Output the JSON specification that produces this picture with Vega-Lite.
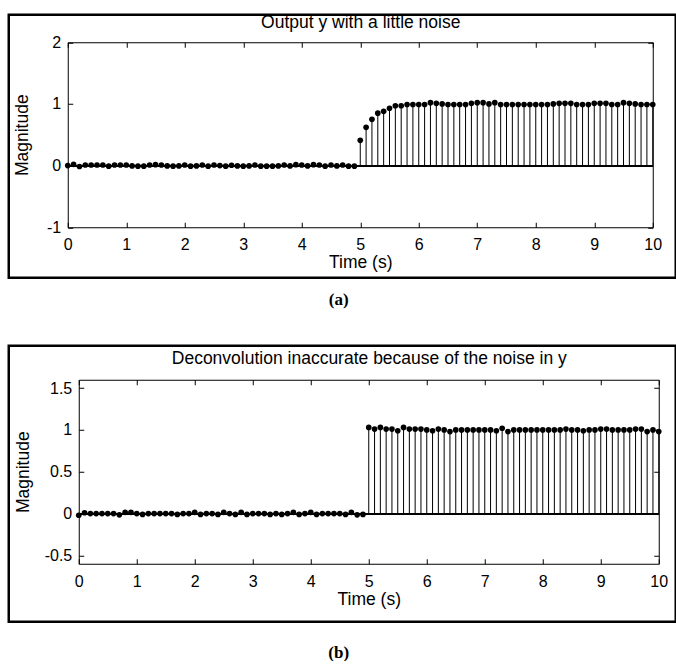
{
  "$schema": "https://vega.github.io/schema/vega-lite/v6.json",
  "autosize": {"type": "pad"},
  "padding": {"left": 6.75, "top": 11.75, "right": 0, "bottom": 0},
  "background": "white",
  "spacing": 36,
  "config": {
    "view": {"stroke": "black", "strokeWidth": 2.5},
    "font": "Liberation Sans",
    "axis": {
      "grid": false,
      "domainColor": "black",
      "domainWidth": 1,
      "tickColor": "black",
      "tickWidth": 1,
      "tickSize": -5,
      "labelColor": "black",
      "labelFont": "Liberation Sans",
      "labelFontSize": 16,
      "labelFlush": false,
      "labelOverlap": false,
      "titleFont": "Liberation Sans",
      "titleFontSize": 17.5,
      "titleFontWeight": "normal",
      "titleColor": "black",
      "labelExpr": "'' + datum.value"
    }
  },
  "datasets": {
    "a": [
      {"t": 0, "v": 0.0}, {"t": 0.1, "v": 0.02}, {"t": 0.2, "v": -0.015}, {"t": 0.3, "v": 0.01}, {"t": 0.4, "v": 0.01},
      {"t": 0.5, "v": 0.01}, {"t": 0.6, "v": 0.01}, {"t": 0.7, "v": -0.01}, {"t": 0.8, "v": 0.01}, {"t": 0.9, "v": 0.01},
      {"t": 1.0, "v": 0.01}, {"t": 1.1, "v": -0.005}, {"t": 1.2, "v": -0.01}, {"t": 1.3, "v": -0.01}, {"t": 1.4, "v": 0.01},
      {"t": 1.5, "v": 0.015}, {"t": 1.6, "v": 0.01}, {"t": 1.7, "v": -0.005}, {"t": 1.8, "v": -0.01}, {"t": 1.9, "v": -0.005},
      {"t": 2.0, "v": 0.01}, {"t": 2.1, "v": -0.01}, {"t": 2.2, "v": -0.005}, {"t": 2.3, "v": 0.01}, {"t": 2.4, "v": -0.01},
      {"t": 2.5, "v": 0.01}, {"t": 2.6, "v": 0.0}, {"t": 2.7, "v": -0.01}, {"t": 2.8, "v": 0.005}, {"t": 2.9, "v": -0.005},
      {"t": 3.0, "v": -0.01}, {"t": 3.1, "v": -0.005}, {"t": 3.2, "v": 0.01}, {"t": 3.3, "v": -0.01}, {"t": 3.4, "v": -0.01},
      {"t": 3.5, "v": -0.01}, {"t": 3.6, "v": -0.005}, {"t": 3.7, "v": 0.01}, {"t": 3.8, "v": -0.005}, {"t": 3.9, "v": 0.015},
      {"t": 4.0, "v": 0.01}, {"t": 4.1, "v": -0.005}, {"t": 4.2, "v": 0.015}, {"t": 4.3, "v": 0.01}, {"t": 4.4, "v": -0.01},
      {"t": 4.5, "v": 0.01}, {"t": 4.6, "v": -0.005}, {"t": 4.7, "v": 0.01}, {"t": 4.8, "v": -0.01}, {"t": 4.9, "v": -0.01},
      {"t": 5.0, "v": 0.41}, {"t": 5.1, "v": 0.62}, {"t": 5.2, "v": 0.75}, {"t": 5.3, "v": 0.85}, {"t": 5.4, "v": 0.88},
      {"t": 5.5, "v": 0.93}, {"t": 5.6, "v": 0.97}, {"t": 5.7, "v": 0.97}, {"t": 5.8, "v": 0.99}, {"t": 5.9, "v": 0.99},
      {"t": 6.0, "v": 0.99}, {"t": 6.1, "v": 0.99}, {"t": 6.2, "v": 1.02}, {"t": 6.3, "v": 1.01}, {"t": 6.4, "v": 1.0},
      {"t": 6.5, "v": 0.99}, {"t": 6.6, "v": 0.99}, {"t": 6.7, "v": 0.99}, {"t": 6.8, "v": 0.99}, {"t": 6.9, "v": 1.01},
      {"t": 7.0, "v": 1.02}, {"t": 7.1, "v": 1.02}, {"t": 7.2, "v": 1.0}, {"t": 7.3, "v": 1.02}, {"t": 7.4, "v": 0.99},
      {"t": 7.5, "v": 0.99}, {"t": 7.6, "v": 0.99}, {"t": 7.7, "v": 0.99}, {"t": 7.8, "v": 0.99}, {"t": 7.9, "v": 0.99},
      {"t": 8.0, "v": 0.99}, {"t": 8.1, "v": 0.99}, {"t": 8.2, "v": 0.99}, {"t": 8.3, "v": 1.0}, {"t": 8.4, "v": 1.01},
      {"t": 8.5, "v": 1.01}, {"t": 8.6, "v": 1.01}, {"t": 8.7, "v": 0.99}, {"t": 8.8, "v": 0.99}, {"t": 8.9, "v": 0.99},
      {"t": 9.0, "v": 1.01}, {"t": 9.1, "v": 1.01}, {"t": 9.2, "v": 1.01}, {"t": 9.3, "v": 0.99}, {"t": 9.4, "v": 0.99},
      {"t": 9.5, "v": 1.02}, {"t": 9.6, "v": 1.01}, {"t": 9.7, "v": 1.0}, {"t": 9.8, "v": 0.99}, {"t": 9.9, "v": 0.99},
      {"t": 10.0, "v": 0.99}
    ],
    "b": [
      {"t": 0, "v": -0.02}, {"t": 0.1, "v": 0.01}, {"t": 0.2, "v": 0.0}, {"t": 0.3, "v": 0.0}, {"t": 0.4, "v": 0.0},
      {"t": 0.5, "v": 0.0}, {"t": 0.6, "v": 0.0}, {"t": 0.7, "v": -0.015}, {"t": 0.8, "v": 0.015}, {"t": 0.9, "v": 0.015},
      {"t": 1.0, "v": 0.0}, {"t": 1.1, "v": -0.01}, {"t": 1.2, "v": 0.0}, {"t": 1.3, "v": 0.0}, {"t": 1.4, "v": 0.0},
      {"t": 1.5, "v": 0.0}, {"t": 1.6, "v": 0.0}, {"t": 1.7, "v": -0.01}, {"t": 1.8, "v": 0.0}, {"t": 1.9, "v": 0.0},
      {"t": 2.0, "v": 0.015}, {"t": 2.1, "v": -0.01}, {"t": 2.2, "v": 0.0}, {"t": 2.3, "v": 0.0}, {"t": 2.4, "v": -0.01},
      {"t": 2.5, "v": 0.015}, {"t": 2.6, "v": 0.0}, {"t": 2.7, "v": -0.01}, {"t": 2.8, "v": 0.015}, {"t": 2.9, "v": -0.01},
      {"t": 3.0, "v": 0.0}, {"t": 3.1, "v": 0.0}, {"t": 3.2, "v": 0.0}, {"t": 3.3, "v": -0.01}, {"t": 3.4, "v": 0.0},
      {"t": 3.5, "v": -0.01}, {"t": 3.6, "v": 0.0}, {"t": 3.7, "v": 0.015}, {"t": 3.8, "v": -0.01}, {"t": 3.9, "v": 0.0},
      {"t": 4.0, "v": 0.015}, {"t": 4.1, "v": -0.01}, {"t": 4.2, "v": 0.0}, {"t": 4.3, "v": 0.0}, {"t": 4.4, "v": 0.0},
      {"t": 4.5, "v": 0.0}, {"t": 4.6, "v": -0.01}, {"t": 4.7, "v": 0.015}, {"t": 4.8, "v": -0.015}, {"t": 4.9, "v": -0.01},
      {"t": 5.0, "v": 1.03}, {"t": 5.1, "v": 1.01}, {"t": 5.2, "v": 1.03}, {"t": 5.3, "v": 1.01}, {"t": 5.4, "v": 1.01},
      {"t": 5.5, "v": 0.99}, {"t": 5.6, "v": 1.03}, {"t": 5.7, "v": 1.01}, {"t": 5.8, "v": 1.01}, {"t": 5.9, "v": 1.01},
      {"t": 6.0, "v": 1.0}, {"t": 6.1, "v": 0.99}, {"t": 6.2, "v": 1.01}, {"t": 6.3, "v": 1.0}, {"t": 6.4, "v": 0.98},
      {"t": 6.5, "v": 1.0}, {"t": 6.6, "v": 1.0}, {"t": 6.7, "v": 1.0}, {"t": 6.8, "v": 1.0}, {"t": 6.9, "v": 1.0},
      {"t": 7.0, "v": 1.0}, {"t": 7.1, "v": 1.0}, {"t": 7.2, "v": 0.99}, {"t": 7.3, "v": 1.02}, {"t": 7.4, "v": 0.98},
      {"t": 7.5, "v": 1.0}, {"t": 7.6, "v": 1.0}, {"t": 7.7, "v": 1.0}, {"t": 7.8, "v": 1.0}, {"t": 7.9, "v": 1.0},
      {"t": 8.0, "v": 1.0}, {"t": 8.1, "v": 1.0}, {"t": 8.2, "v": 1.0}, {"t": 8.3, "v": 1.0}, {"t": 8.4, "v": 1.01},
      {"t": 8.5, "v": 1.0}, {"t": 8.6, "v": 1.0}, {"t": 8.7, "v": 0.99}, {"t": 8.8, "v": 1.0}, {"t": 8.9, "v": 1.0},
      {"t": 9.0, "v": 1.01}, {"t": 9.1, "v": 1.01}, {"t": 9.2, "v": 1.0}, {"t": 9.3, "v": 1.0}, {"t": 9.4, "v": 1.0},
      {"t": 9.5, "v": 1.0}, {"t": 9.6, "v": 1.01}, {"t": 9.7, "v": 1.01}, {"t": 9.8, "v": 0.98}, {"t": 9.9, "v": 1.0},
      {"t": 10.0, "v": 0.98}
    ]
  },
  "vconcat": [
    {
      "title": {"text": "(a)", "orient": "bottom", "anchor": "middle", "font": "Liberation Serif", "fontWeight": "bold", "fontSize": 17, "baseline": "middle", "offset": 20.75, "dx": -3.5, "color": "black"},
      "vconcat": [
        {
          "width": 667,
          "height": 263,
          "data": {"name": "a"},
          "layer": [
            {
              "mark": {"type": "rule", "color": "black", "strokeWidth": 1},
              "encoding": {
                "x": {"field": "t", "type": "quantitative", "scale": {"domain": [0, 10], "range": [59, 644]},
                      "axis": {"orient": "bottom", "offset": -50.5, "values": [0, 1, 2, 3, 4, 5, 6, 7, 8, 9, 10], "labelPadding": 14.5, "title": "Time (s)", "titlePadding": 1}},
                "y": {"field": "v", "type": "quantitative", "scale": {"domain": [-1, 2], "range": [212.5, 27.5]},
                      "axis": {"orient": "left", "offset": -59, "values": [-1, 0, 1, 2], "labelPadding": 12, "title": "Magnitude", "titlePadding": 15}},
                "y2": {"datum": 0}
              }
            },
            {
              "mark": {"type": "circle", "color": "black", "size": 32, "opacity": 1},
              "encoding": {
                "x": {"field": "t", "type": "quantitative", "axis": null},
                "y": {"field": "v", "type": "quantitative", "axis": null}
              }
            },
            {
              "mark": {"type": "rule", "color": "black", "strokeWidth": 1},
              "encoding": {
                "x": {"datum": 0, "type": "quantitative", "axis": {"orient": "top", "offset": -27.5, "values": [0, 1, 2, 3, 4, 5, 6, 7, 8, 9, 10], "labels": false, "title": "Output y with a little noise", "titlePadding": 10.5}},
                "x2": {"datum": 10},
                "y": {"datum": 0, "type": "quantitative", "axis": {"orient": "right", "offset": -23, "values": [-1, 0, 1, 2], "labels": false, "title": null}}
              }
            }
          ],
          "resolve": {"axis": {"x": "independent", "y": "independent"}}
        }
      ]
    },
    {
      "title": {"text": "(b)", "orient": "bottom", "anchor": "middle", "font": "Liberation Serif", "fontWeight": "bold", "fontSize": 17, "baseline": "middle", "offset": 29.75, "dx": -3.5, "color": "black"},
      "vconcat": [
        {
          "width": 667,
          "height": 276,
          "data": {"name": "b"},
          "layer": [
            {
              "mark": {"type": "rule", "color": "black", "strokeWidth": 1},
              "encoding": {
                "x": {"field": "t", "type": "quantitative", "scale": {"domain": [0, 10], "range": [70, 650]},
                      "axis": {"orient": "bottom", "offset": -58, "values": [0, 1, 2, 3, 4, 5, 6, 7, 8, 9, 10], "labelPadding": 14.5, "title": "Time (s)", "titlePadding": 1}},
                "y": {"field": "v", "type": "quantitative", "scale": {"domain": [-0.5, 1.5], "range": [218, 34]},
                      "axis": {"orient": "left", "offset": -70, "values": [-0.5, 0, 0.5, 1, 1.5], "labelPadding": 12, "title": "Magnitude", "titlePadding": 12}},
                "y2": {"datum": 0}
              }
            },
            {
              "mark": {"type": "circle", "color": "black", "size": 32, "opacity": 1},
              "encoding": {
                "x": {"field": "t", "type": "quantitative", "axis": null},
                "y": {"field": "v", "type": "quantitative", "axis": null}
              }
            },
            {
              "mark": {"type": "rule", "color": "black", "strokeWidth": 1},
              "encoding": {
                "x": {"datum": 0, "type": "quantitative", "axis": {"orient": "top", "offset": -34, "values": [0, 1, 2, 3, 4, 5, 6, 7, 8, 9, 10], "labels": false, "title": "Deconvolution inaccurate because of the noise in y", "titlePadding": 11.5}},
                "x2": {"datum": 10},
                "y": {"datum": 0, "type": "quantitative", "axis": {"orient": "right", "offset": -17, "values": [-0.5, 0, 0.5, 1, 1.5], "labels": false, "title": null}}
              }
            }
          ],
          "resolve": {"axis": {"x": "independent", "y": "independent"}}
        }
      ]
    }
  ]
}
